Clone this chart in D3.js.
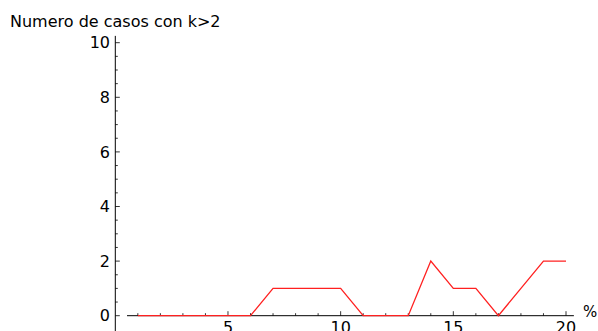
<!DOCTYPE html>
<html>
<head>
<meta charset="utf-8">
<script src="https://cdn.jsdelivr.net/npm/d3@7"></script>
<style>
  html, body { margin: 0; padding: 0; background: #fff; }
  svg { display: block; }
  text { font-family: "DejaVu Sans", sans-serif; fill: #000; }
</style>
</head>
<body>
<svg id="chart" width="598" height="331"></svg>
<script>
// Percent values and number of cases with k>2
const porcentajes = [1, 2, 3, 4, 5, 6, 7, 8, 9, 10, 11, 12, 13, 14, 15, 16, 17, 18, 19, 20];
const casos       = [0, 0, 0, 0, 0, 0, 1, 1, 1, 1, 0, 0, 0, 2, 1, 1, 0, 1, 2, 2];
const xTicks = [5, 10, 15, 20];
const yTicks = [0, 2, 4, 6, 8, 10];
const titulo = "Numero de casos con k>2";
const etiquetaX = "%";

const svg = d3.select("#chart");

const x = d3.scaleLinear().domain([0, 20]).range([115.3, 566]);
const y = d3.scaleLinear().domain([0, 10]).range([315.7, 42.7]);

// Axis lines
svg.append("line")
  .attr("x1", x(0.52)).attr("x2", x(20.35))
  .attr("y1", y(0)).attr("y2", y(0))
  .attr("stroke", "#000").attr("stroke-width", 1);
svg.append("line")
  .attr("x1", x(0)).attr("x2", x(0))
  .attr("y1", y(10.25)).attr("y2", 331)
  .attr("stroke", "#000").attr("stroke-width", 1);

// x ticks: minor at every integer, major with labels
const xMinor = d3.range(1, 21);
svg.append("g").selectAll("line").data(xMinor).join("line")
  .attr("x1", d => x(d)).attr("x2", d => x(d))
  .attr("y1", y(0)).attr("y2", d => y(0) - (xTicks.includes(d) ? 4.5 : 2.5))
  .attr("stroke", "#000").attr("stroke-width", 0.8);
svg.append("g").selectAll("text").data(xTicks).join("text")
  .attr("x", d => x(d)).attr("y", 333)
  .attr("text-anchor", "middle")
  .style("font-size", "16px")
  .text(d => d);

// y ticks: minor every 0.5, major with labels
const yMinor = d3.range(0, 10.01, 0.5);
svg.append("g").selectAll("line").data(yMinor).join("line")
  .attr("x1", x(0)).attr("x2", d => x(0) + (d % 2 === 0 ? 4.5 : 2.5))
  .attr("y1", d => y(d)).attr("y2", d => y(d))
  .attr("stroke", "#000").attr("stroke-width", 0.8);
svg.append("g").selectAll("text").data(yTicks).join("text")
  .attr("x", 110).attr("y", d => y(d))
  .attr("dy", "0.36em")
  .attr("text-anchor", "end")
  .style("font-size", "16px")
  .text(d => d);

// Series line
const linea = d3.line().x(d => x(d[0])).y(d => y(d[1]));
svg.append("path")
  .datum(porcentajes.map((p, i) => [p, casos[i]]))
  .attr("d", linea)
  .attr("fill", "none")
  .attr("stroke", "#ff2020")
  .attr("stroke-width", 1.3);

// Labels
svg.append("text")
  .attr("x", 10).attr("y", 26.7)
  .style("font-size", "16px")
  .text(titulo);
svg.append("text")
  .attr("x", 583).attr("y", 317)
  .style("font-size", "15px")
  .text(etiquetaX);
</script>
</body>
</html>
